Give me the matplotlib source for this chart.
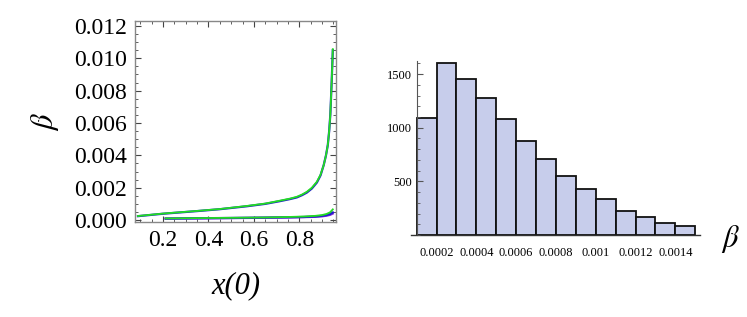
import matplotlib
matplotlib.use("Agg")
import matplotlib.pyplot as plt
from matplotlib.ticker import MultipleLocator, FixedLocator
import numpy as np

# ---- data: left panel (beta vs x(0)) ----
x_upper = [0.09, 0.2, 0.347, 0.45, 0.568, 0.65, 0.715, 0.76, 0.789, 0.812, 0.833, 0.855, 0.877,
           0.893, 0.907, 0.917, 0.925, 0.931, 0.936, 0.939, 0.942, 0.945, 0.947]
beta_upper_green = [0.00025, 0.00040, 0.00056, 0.00068, 0.00087, 0.00102, 0.00120, 0.00133, 0.00144,
                    0.00158, 0.00175, 0.00200, 0.00237, 0.00280, 0.0034, 0.0040, 0.00464, 0.0055,
                    0.0065, 0.0075, 0.00856, 0.0097, 0.01056]
beta_upper_blue = [0.00024, 0.00039, 0.00055, 0.00067, 0.00085, 0.00100, 0.00117, 0.00130, 0.00140,
                   0.00154, 0.00170, 0.00195, 0.00232, 0.00276, 0.0034, 0.0040, 0.00464, 0.0055,
                   0.0065, 0.0075, 0.00856, 0.0097, 0.01050]

x_lower = [0.212, 0.35, 0.5, 0.65, 0.75, 0.82, 0.87, 0.9, 0.92, 0.935, 0.947]
beta_lower_green = [0.00010, 0.00012, 0.00014, 0.00016, 0.00019, 0.00022, 0.00026, 0.00031, 0.00038, 0.00048, 0.00066]
beta_lower_blue = [0.00009, 0.00011, 0.00013, 0.00015, 0.00017, 0.00019, 0.00022, 0.00026, 0.00031, 0.00037, 0.00047]
beta_lower_purple = [0.00009, 0.00010, 0.00012, 0.00014, 0.00016, 0.00018, 0.00020, 0.00023, 0.00027, 0.00032, 0.00040]

# ---- data: right panel (histogram of beta) ----
bin_edges = [0.0001, 0.0002, 0.0003, 0.0004, 0.0005, 0.0006, 0.0007, 0.0008,
             0.0009, 0.0010, 0.0011, 0.0012, 0.0013, 0.0014, 0.0015]
counts = [1092, 1605, 1450, 1273, 1077, 875, 708, 552, 428, 332, 226, 165, 109, 87]

xticks_left = [0.2, 0.4, 0.6, 0.8]
xtick_labels_left = ["0.2", "0.4", "0.6", "0.8"]
yticks_left = [0.000, 0.002, 0.004, 0.006, 0.008, 0.010, 0.012]
ytick_labels_left = ["0.000", "0.002", "0.004", "0.006", "0.008", "0.010", "0.012"]
xticks_right = [0.0002, 0.0004, 0.0006, 0.0008, 0.0010, 0.0012, 0.0014]
xtick_labels_right = ["0.0002", "0.0004", "0.0006", "0.0008", "0.001", "0.0012", "0.0014"]
yticks_right = [500, 1000, 1500]

plt.rcParams['font.family'] = ['Liberation Serif', 'DejaVu Serif']
plt.rcParams['mathtext.fontset'] = 'stix'

fig = plt.figure(figsize=(7.47, 3.17), dpi=100)

# ---- left panel ----
ax1 = fig.add_axes([0.1807, 0.2997, 0.2697, 0.6350])
ax1.plot(x_upper, beta_upper_blue, color='#2020c8', lw=1.6)
ax1.plot(x_upper, beta_upper_green, color='#22dd22', lw=1.3)
ax1.plot(x_lower, beta_lower_purple, color='#8a2be2', lw=1.6)
ax1.plot(x_lower, beta_lower_blue, color='#2020c8', lw=1.6)
ax1.plot(x_lower, beta_lower_green, color='#22dd22', lw=1.3)
ax1.set_xlim(0.077, 0.963)
ax1.set_ylim(-0.00012, 0.01232)
ax1.xaxis.set_major_locator(FixedLocator(xticks_left))
ax1.set_xticklabels(xtick_labels_left)
ax1.xaxis.set_minor_locator(MultipleLocator(0.05))
ax1.yaxis.set_major_locator(FixedLocator(yticks_left))
ax1.set_yticklabels(ytick_labels_left)
ax1.yaxis.set_minor_locator(MultipleLocator(0.0005))
ax1.tick_params(which='both', direction='in', top=True, right=True, color='#444444', labelsize=17, pad=6)
ax1.tick_params(which='major', length=4, width=0.8)
ax1.tick_params(which='minor', length=2.2, width=0.6)
for s in ax1.spines.values():
    s.set_color('#888888')
    s.set_linewidth(1.0)
ax1.set_xlabel('x(0)', fontsize=22, fontstyle='italic', labelpad=14)
ax1.set_ylabel(r'$\beta$', fontsize=22, rotation=90, labelpad=9)

# ---- right panel ----
ax2 = fig.add_axes([0.5502, 0.2587, 0.3869, 0.5498])
widths = np.diff(bin_edges)
ax2.bar(bin_edges[:-1], counts, width=widths, align='edge', color='#c7cdeb',
        edgecolor='#111111', linewidth=1.3)
ax2.set_xlim(0.0000715, 0.001524)
ax2.set_ylim(0, 1625)
ax2.spines['top'].set_visible(False)
ax2.spines['right'].set_visible(False)
ax2.spines['left'].set_position(('data', 0.0001))
ax2.spines['left'].set_color('#555555')
ax2.spines['bottom'].set_color('#333333')
ax2.spines['left'].set_linewidth(0.8)
ax2.spines['bottom'].set_linewidth(1.0)
ax2.xaxis.set_major_locator(FixedLocator(xticks_right))
ax2.set_xticklabels(xtick_labels_right)
ax2.yaxis.set_major_locator(FixedLocator(yticks_right))
ax2.yaxis.set_minor_locator(MultipleLocator(100))
ax2.tick_params(axis='x', length=0, labelsize=8.9, pad=9)
ax2.tick_params(axis='y', which='major', direction='in', length=4, labelsize=8.9, color='#555555')
ax2.tick_params(axis='y', which='minor', direction='in', length=2.5, color='#555555')
ax2.set_axisbelow(False)
fig.text(0.978, 0.245, r'$\beta$', fontsize=22, ha='center', va='center')

fig.savefig('out.png', dpi=100)
